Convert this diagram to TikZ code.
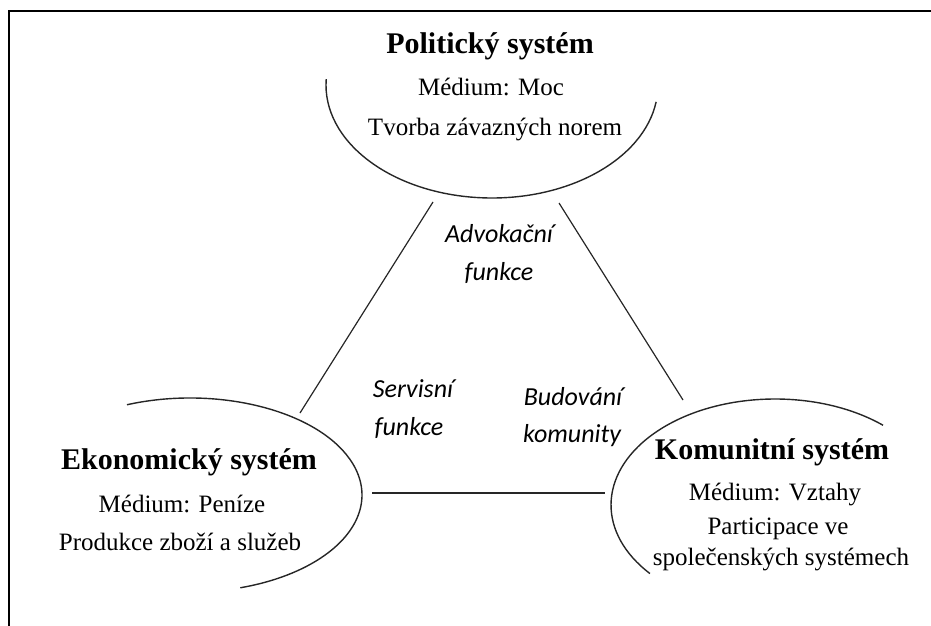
\documentclass[tikz,border=0pt]{standalone}
\usepackage{fontspec}
\setmainfont{Liberation Serif}
\newfontfamily\lblfont{Carlito}
\begin{document}
\begin{tikzpicture}[x=1pt,y=1pt,
  title/.style={anchor=base,inner sep=0pt,font=\fontsize{30}{36}\selectfont\bfseries},
  body/.style={anchor=base,inner sep=0pt,font=\fontsize{25}{30}\selectfont},
  lbl/.style={anchor=base,inner sep=0pt,font=\lblfont\fontsize{26}{31}\selectfont\itshape},
  arcline/.style={line width=1.4pt,black!85},
  conn/.style={line width=1.2pt,black!85},
  frame/.style={line width=2.2pt,black}]
\useasboundingbox (0,0) rectangle (931,625);
\clip (0,0) rectangle (931,625);
\draw[frame] (9,-20) rectangle (960,614);

% system ellipses (partial arcs)
\draw[arcline] (492,540) ++(177:166 and 113) arc[start angle=177,end angle=351.4,x radius=166,y radius=113];
\draw[arcline] (190,130) ++(111.5:172 and 97) arc[start angle=111.5,end angle=-73,x radius=172,y radius=97];
\draw[arcline] (775,120) ++(48.8:164 and 106) arc[start angle=48.8,end angle=220.3,x radius=164,y radius=106];

% texts: political system
\node[title] (polT) at (490,571) {Politický systém};
\node[body] (polM) at (491,529.5) {Médium: Moc};
\node[body] (polF) at (495,489.5) {Tvorba závazných norem};
% economic system
\node[title] (ekoT) at (189,156) {Ekonomický systém};
\node[body] (ekoM) at (182,112.5) {Médium: Peníze};
\node[body] (ekoF) at (180,74.5) {Produkce zboží a služeb};
% community system
\node[title] (komT) at (772,166) {Komunitní systém};
\node[body] (komM) at (775,124.5) {Médium: Vztahy};
\node[body] (komF1) at (778,90.5) {Participace ve};
\node[body] (komF2) at (781,59.5) {společenských systémech};

% connector end points on the arcs
\coordinate (polL) at (433,423);
\coordinate (polR) at (559,422);
\coordinate (ekoU) at (300,212);
\coordinate (ekoR) at (372,132);
\coordinate (komU) at (683,225);
\coordinate (komL) at (605,132);
\draw[conn] (polL) -- (ekoU);
\draw[conn] (polR) -- (komU);
\draw[conn] (ekoR) -- (komL);

% function labels
\node[lbl] (adv1) at (499,383) {Advokační};
\node[lbl] (adv2) at (499,345) {funkce};
\node[lbl] (ser1) at (413,228) {Servisní};
\node[lbl] (ser2) at (409,190) {funkce};
\node[lbl] (bud1) at (573,220) {Budování};
\node[lbl] (bud2) at (572,183) {komunity};
\end{tikzpicture}
\end{document}
